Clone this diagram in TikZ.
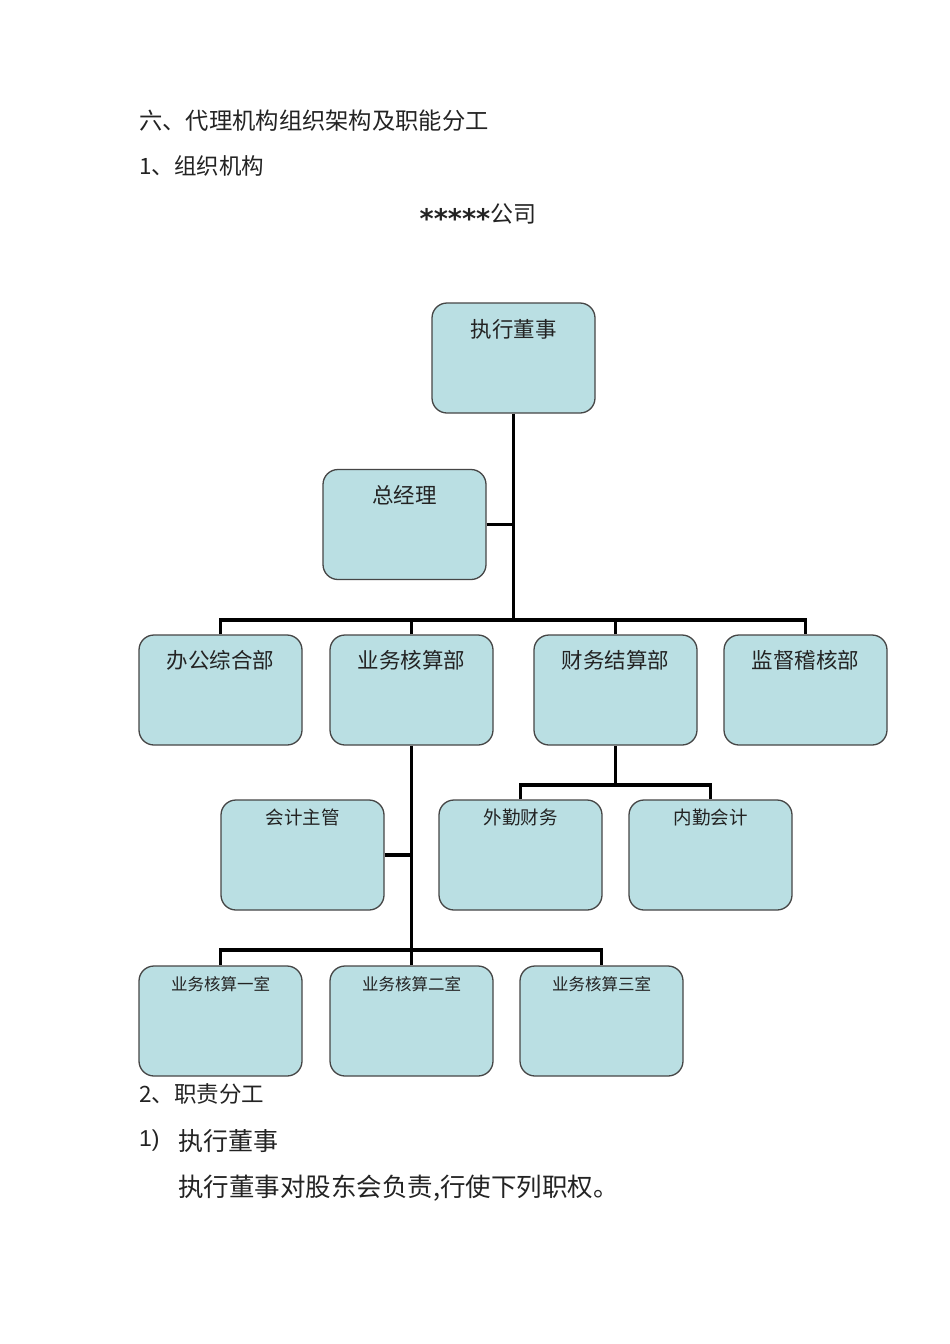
\documentclass[tikz,border=0pt]{standalone}
\usepackage{fontspec}
\setmainfont{Liberation Serif}
\newfontfamily\cjk{Noto Sans CJK SC}
\newfontfamily\symfont{DejaVu Sans}
\usetikzlibrary{calc}
\definecolor{boxfill}{RGB}{186,223,227}
\definecolor{boxline}{RGB}{70,70,70}
\definecolor{txt}{RGB}{35,35,35}
\tikzset{
  orgbox/.style={draw=boxline, line width=1.3pt, fill=boxfill, rounded corners=15pt,
    minimum width=163pt, minimum height=110pt, inner sep=0pt},
  bigl/.style={font=\cjk\fontsize{21.5}{21.5}\selectfont, text=txt, inner sep=0pt},
  smalll/.style={font=\cjk\fontsize{18.5}{18.5}\selectfont, text=txt, inner sep=0pt},
  tinyl/.style={font=\cjk\fontsize{16.5}{16.5}\selectfont, text=txt, inner sep=0pt},
  conn/.style={line width=3.2pt, black},
  para/.style={anchor=west, inner sep=0pt, text=txt}
}
\begin{document}
\begin{tikzpicture}[x=1pt,y=-1pt]
\useasboundingbox[fill=white] (0,0) rectangle (950,1344);

% heading text
\node[para, font=\cjk\fontsize{23.3}{23.3}\selectfont] (h1) at (139,121) {六、代理机构组织架构及职能分工};
\node[para, font=\cjk\fontsize{22.5}{22.5}\selectfont] (h2) at (139,166) {1、组织机构};
\node[inner sep=0pt, text=txt, font=\cjk\fontsize{23}{23}\selectfont] (co) at (478,216)
  {\raisebox{-6pt}{\symfont\bfseries\fontsize{27}{27}\selectfont *****}公司};

% boxes
\node[orgbox] (ceo) at (513.5,358) {};
\node[orgbox] (gm)  at (404.5,524.5) {};
\node[orgbox] (d1)  at (220.5,690) {};
\node[orgbox] (d2)  at (411.5,690) {};
\node[orgbox] (d3)  at (615.5,690) {};
\node[orgbox] (d4)  at (805.5,690) {};
\node[orgbox] (acc) at (302.5,855) {};
\node[orgbox] (s1)  at (520.5,855) {};
\node[orgbox] (s2)  at (710.5,855) {};
\node[orgbox] (r1)  at (220.5,1021) {};
\node[orgbox] (r2)  at (411.5,1021) {};
\node[orgbox] (r3)  at (601.5,1021) {};

% box labels
\node[bigl] (tceo) at ($(ceo.north)+(0,27)$) {执行董事};
\node[bigl] (tgm)  at ($(gm.north)+(0,26)$) {总经理};
\node[bigl] (td1)  at ($(d1.north)+(0,26)$) {办公综合部};
\node[bigl] (td2)  at ($(d2.north)+(0,26)$) {业务核算部};
\node[bigl] (td3)  at ($(d3.north)+(0,26)$) {财务结算部};
\node[bigl] (td4)  at ($(d4.north)+(0,26)$) {监督稽核部};
\node[smalll] (tacc) at ($(acc.north)+(0,18)$) {会计主管};
\node[smalll] (ts1)  at ($(s1.north)+(0,18)$) {外勤财务};
\node[smalll] (ts2)  at ($(s2.north)+(0,18)$) {内勤会计};
\node[tinyl] (tr1) at ($(r1.north)+(0,19)$) {业务核算一室};
\node[tinyl] (tr2) at ($(r2.north)+(0,19)$) {业务核算二室};
\node[tinyl] (tr3) at ($(r3.north)+(0,19)$) {业务核算三室};

% bus levels
\coordinate (busA) at (513.5,620);
\coordinate (busB) at (411.5,950);
\coordinate (busC) at (615.5,785);

% connectors
\draw[conn] (ceo.south) -- (busA);
\draw[conn] (gm.east) -- (gm.east -| busA);
\draw[conn] (d1.north) |- (busA) -| (d4.north);
\draw[conn] (d2.north) -- (d2.north |- busA);
\draw[conn] (d3.north) -- (d3.north |- busA);

\draw[conn] (d2.south) -- (busB);
\draw[conn] (acc.east) -- (acc.east -| busB);
\draw[conn] (r1.north) |- (busB) -| (r3.north);
\draw[conn] (r2.north) -- (busB);

\draw[conn] (d3.south) -- (busC);
\draw[conn] (s1.north) |- (busC) -| (s2.north);

% closing text
\node[para, font=\cjk\fontsize{22.5}{22.5}\selectfont] (p1) at (139,1094) {2、职责分工};
\node[para, font=\fontsize{23}{23}\selectfont\fontspec{Liberation Sans}] (p2n) at (139,1141) {1)};
\node[para, font=\cjk\fontsize{25}{25}\selectfont] (p2) at (178,1141) {执行董事};
\node[para, font=\cjk\fontsize{25.5}{25.5}\selectfont] (p3) at (178,1188) {执行董事对股东会负责,行使下列职权。};
\end{tikzpicture}
\end{document}
